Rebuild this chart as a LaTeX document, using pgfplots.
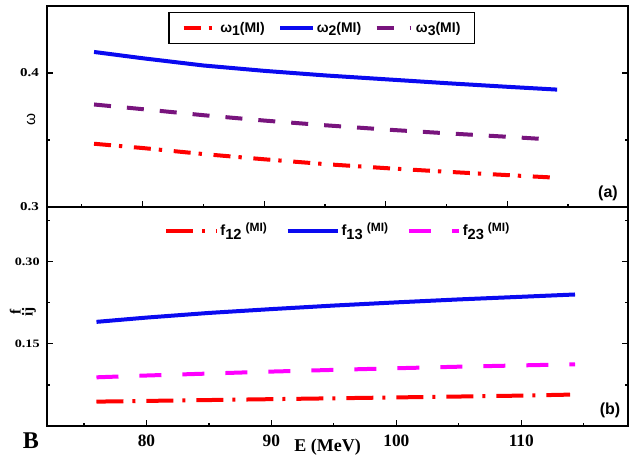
\documentclass[border=0pt]{standalone}
\usepackage{fontspec}
\setmainfont{Liberation Serif}
\newfontfamily\arial{Liberation Sans}
\newfontfamily\wideserif[FakeStretch=1.25]{Liberation Serif}
\usepackage{pgfplots}
\pgfplotsset{compat=1.18}

\definecolor{cred}{RGB}{255,0,0}
\definecolor{cblue}{RGB}{10,10,240}
\definecolor{cpurple}{RGB}{120,20,125}
\definecolor{cmag}{RGB}{255,0,255}

\pgfplotsset{
  myaxis/.style={
    scale only axis, width=435.75pt,
    axis line style={line width=1pt},
    every tick/.style={line width=0.9pt, black},
    tick align=inside, xtick pos=lower, ytick pos=both,
    major tick length=4.5pt, minor tick length=2.25pt,
    /pgf/number format/assume math mode=true,
    clip=false,
  }
}

\begin{document}
\begin{tikzpicture}
\useasboundingbox (0,0) rectangle (477pt,347.25pt);

% ---------------- panel (a)
\begin{axis}[myaxis,
  at={(35.25pt,192pt)}, anchor=south west, height=150.75pt,
  xmin=72.13, xmax=119.93, ymin=0.3, ymax=0.45,
  xtick={80,90,100,110}, minor xtick={75,85,95,105,115},
  xticklabel=\empty,
  ytick={0.3,0.4}, yticklabels={\textbf{0.3},\textbf{0.4}},
  minor ytick={0.35},
  yticklabel style={font=\wideserif\fontsize{9}{10}\selectfont, xshift=-2.5pt},
  ylabel={\arial ω},
  ylabel style={at={(axis description cs:-0.0275,0.433)}, anchor=center, font=\fontsize{11.5}{12}\selectfont},
  legend image code/.code={\draw[#1] (0pt,0pt) -- (25pt,0pt);},
  legend style={at={(0.4728,0.8905)}, anchor=center, draw=black, line width=1pt,
    legend columns=3, font=\arial\bfseries\fontsize{10.5}{12}\selectfont,
    inner xsep=9.5pt, inner ysep=5pt,
    /tikz/every even column/.append style={column sep=9pt},
    nodes={inner xsep=1pt}},
  legend cell align=left,
]
\addplot[cred, line width=3pt, dash pattern=on 12.75pt off 6pt on 2.5pt off 8.75pt] coordinates {
 (76,0.3472) (80,0.3440) (85,0.3395) (90,0.3356) (95,0.3320) (100,0.3290) (105,0.3263) (110,0.3238) (113.5,0.3221)};
\addlegendentry{ω\raisebox{-2.5pt}{1}(MI)}
\addplot[cblue, line width=3pt] coordinates {
 (76,0.4157) (80,0.4110) (85,0.4056) (90,0.4016) (95,0.3982) (100,0.3953) (105,0.3924) (110,0.3897) (114.1,0.3876)};
\addlegendentry{ω\raisebox{-2.5pt}{2}(MI)}
\addplot[cpurple, line width=3pt, dash pattern=on 12.75pt off 12pt] coordinates {
 (76,0.3765) (80,0.3730) (85,0.3685) (90,0.3645) (95,0.3610) (100,0.3578) (105,0.3550) (110,0.3524) (113,0.3507)};
\addlegendentry{\hspace{2pt}ω\raisebox{-2.5pt}{3}(MI)}
\node[font=\arial\bfseries\fontsize{12}{13}\selectfont] at (rel axis cs:0.9656,0.0672) {(a)};
\end{axis}

% ---------------- panel (b)
\begin{axis}[myaxis,
  at={(35.25pt,27.75pt)}, anchor=south west, height=164.25pt,
  xmin=72.04, xmax=118.54, ymin=0, ymax=0.40,
  xtick={80,90,100,110}, minor xtick={75,85,95,105,115},
  xticklabels={\textbf{80},\textbf{90},\textbf{100},\textbf{110}},
  xticklabel style={anchor=base, yshift=-15.5pt, font=\fontsize{13}{14}\selectfont},
  ytick={0.15,0.30}, yticklabels={\textbf{0.15},\textbf{0.30}},
  minor ytick={0.075,0.225,0.375},
  yticklabel style={font=\wideserif\fontsize{8.5}{10}\selectfont, xshift=-2pt},
  xlabel={\textbf{E (MeV)}},
  xlabel style={at={(axis description cs:0.4828,-0.117)}, anchor=base, font=\fontsize{13.5}{15}\selectfont},
  ylabel={\bfseries\begin{tabular}{@{}c@{}}f\\[-3pt]ij\end{tabular}},
  ylabel style={at={(axis description cs:-0.0404,0.5205)}, anchor=center, font=\fontsize{11.5}{12}\selectfont},
  legend image code/.code={\draw[#1] (0pt,0pt) -- (38pt,0pt);},
  legend style={at={(0.50,0.892)}, anchor=center, draw=none, fill=none,
    legend columns=3, font=\arial\bfseries\fontsize{11}{12}\selectfont,
    /tikz/every even column/.append style={column sep=13pt},
    nodes={inner xsep=1pt}},
  legend cell align=left,
]
\addplot[cred, line width=3pt, dash pattern=on 20.25pt off 6.75pt on 2.25pt off 8.25pt] coordinates {
 (76,0.0445) (80,0.0458) (85,0.0474) (90,0.0490) (95,0.0506) (100,0.0522) (105,0.0538) (110,0.0555) (113.9,0.0573)};
\addlegendentry{f\raisebox{-2.5pt}{12}\hspace{3pt}\raisebox{3pt}{\fontsize{9}{9}\selectfont(MI)}}
\addplot[cblue, line width=3pt] coordinates {
 (76,0.1902) (80,0.1980) (85,0.2065) (90,0.2135) (95,0.2200) (100,0.2258) (105,0.2312) (110,0.2360) (114.3,0.2402)};
\addlegendentry{f\raisebox{-2.5pt}{13}\hspace{3pt}\raisebox{3pt}{\fontsize{9}{9}\selectfont(MI)}}
\addplot[cmag, line width=3pt, dash pattern=on 16.5pt off 15.75pt] coordinates {
 (76,0.0889) (80,0.0922) (85,0.0958) (90,0.0994) (95,0.1025) (100,0.1055) (105,0.1083) (110,0.1107) (114.3,0.1127)};
\addlegendentry{f\raisebox{-2.5pt}{23}\hspace{3pt}\raisebox{3pt}{\fontsize{9}{9}\selectfont(MI)}}
\node[font=\arial\bfseries\fontsize{12}{13}\selectfont] at (rel axis cs:0.969,0.073) {(b)};
\end{axis}

\node[font=\bfseries\fontsize{18}{20}\selectfont] at (23.25pt,16.5pt) {B};
\end{tikzpicture}
\end{document}
